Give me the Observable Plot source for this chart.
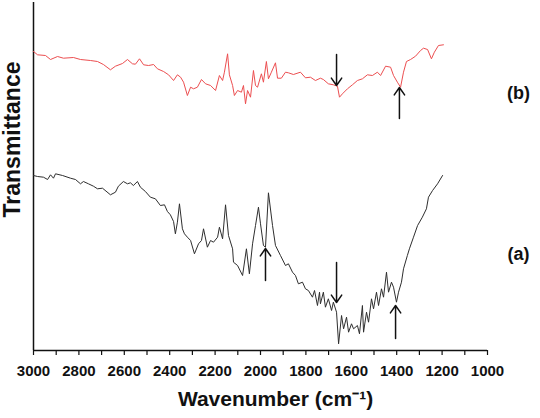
<!DOCTYPE html>
<html>
<head>
<meta charset="utf-8">
<script src="https://cdn.jsdelivr.net/npm/d3@7"></script>
<script src="https://cdn.jsdelivr.net/npm/@observablehq/plot@0.6"></script>
<style>
  body { margin: 0; background: #fff; }
</style>
</head>
<body>
<div id="chart"></div>
<script>
// FTIR spectra, transmittance in arbitrary units
// (b) upper trace, red
const wavenumberB = [3000, 2982, 2947, 2925, 2894, 2868, 2824, 2793, 2749, 2718, 2692, 2661, 2639, 2608, 2586, 2564, 2551, 2533, 2515, 2493, 2471, 2454, 2427, 2405, 2383, 2366, 2352, 2339, 2322, 2308, 2295, 2278, 2260, 2242, 2220, 2198, 2181, 2167, 2159, 2145, 2137, 2123, 2115, 2101, 2084, 2075, 2066, 2057, 2044, 2031, 2022, 2013, 1996, 1987, 1974, 1965, 1952, 1934, 1925, 1908, 1890, 1877, 1855, 1824, 1802, 1780, 1758, 1736, 1723, 1701, 1679, 1661, 1652, 1639, 1617, 1595, 1573, 1551, 1529, 1507, 1485, 1471, 1449, 1427, 1414, 1397, 1383, 1370, 1357, 1339, 1317, 1295, 1282, 1264, 1247, 1234, 1216, 1194];
const transmittanceB = [299, 295.7, 295, 291, 294, 292.3, 293, 291, 290, 289, 286, 280.7, 284.3, 287, 291, 286.7, 286.3, 291.7, 285.7, 285, 286, 281.7, 279, 275.7, 270, 275.7, 273.3, 268.3, 255, 263.3, 261.7, 263.3, 271, 266.7, 265, 260, 275, 270, 278.3, 296.7, 275.7, 265, 255, 260, 258.3, 265, 246.7, 260, 253.3, 280, 265, 263.3, 276.7, 268.3, 289, 271.7, 278.3, 287.7, 272.3, 272.3, 278.3, 277.7, 276, 278.3, 272.7, 273.3, 270, 272.3, 271, 266.7, 265.7, 264.3, 253.3, 256.7, 261.7, 265.7, 270, 271.7, 275.7, 275, 278.3, 275, 284.3, 283.3, 275, 268.3, 263.3, 278.3, 289, 291, 294.3, 300, 302.3, 301, 291.7, 298.3, 305, 305.7];

// (a) lower trace, black
const wavenumberA = [3000, 2982, 2956, 2938, 2925, 2912, 2903, 2872, 2837, 2815, 2793, 2780, 2758, 2736, 2718, 2696, 2661, 2639, 2626, 2604, 2586, 2573, 2560, 2542, 2529, 2507, 2485, 2463, 2441, 2423, 2410, 2397, 2383, 2375, 2366, 2357, 2344, 2335, 2322, 2308, 2291, 2273, 2260, 2251, 2234, 2220, 2207, 2189, 2181, 2167, 2154, 2141, 2123, 2119, 2101, 2079, 2062, 2049, 2035, 2022, 2009, 2000, 1987, 1978, 1965, 1947, 1934, 1912, 1890, 1877, 1859, 1846, 1833, 1815, 1802, 1789, 1771, 1762, 1749, 1740, 1736, 1723, 1714, 1701, 1687, 1679, 1665, 1656, 1643, 1634, 1621, 1612, 1599, 1590, 1573, 1564, 1551, 1546, 1533, 1524, 1511, 1502, 1489, 1480, 1467, 1458, 1445, 1436, 1423, 1414, 1401, 1392, 1379, 1370, 1353, 1344, 1326, 1308, 1287, 1269, 1260, 1242, 1220, 1198];
const transmittanceA = [175, 174, 173.3, 171, 175.7, 172.3, 176.7, 175, 172.3, 171, 166.7, 169, 166.7, 164.3, 161.7, 162.3, 155.7, 158.3, 164.3, 169, 166.7, 167.7, 165, 169, 163.3, 159, 153.3, 151.7, 145, 145.7, 139, 135.7, 129, 116.7, 128.3, 146.7, 121.7, 116.7, 113.3, 110, 96.7, 106.7, 110, 121.7, 103.3, 110, 108.3, 113.3, 123.3, 111.7, 145.7, 115, 101.7, 88.3, 85, 75, 101.7, 76.7, 106.7, 125, 143.3, 126.7, 105, 103.3, 157.7, 125, 105, 95, 85, 86.7, 78.3, 75, 66.7, 68.3, 61.7, 60, 53.3, 60, 45, 58.3, 46.7, 58.3, 43.3, 51.7, 40, 48.3, 38.3, 6.7, 35, 21.7, 33.3, 18.3, 26.7, 21.7, 25, 16.7, 45, 18.3, 38.3, 28.3, 51.7, 41.7, 58.3, 45, 61.7, 53.3, 78.3, 58.3, 68.3, 63.3, 48.3, 58.3, 68.3, 81.7, 95, 101.7, 113.3, 125, 133.3, 141.7, 153.3, 160, 166.7, 175];

// Band markers: position, tail and head of each arrow
const arrowWavenumber = [1665, 1388, 1978, 1665, 1405];
const arrowTail = [296, 232, 70, 88, 12];
const arrowHead = [265, 263, 102, 48, 45];

// Trace labels
const traceLabels = ["(b)", "(a)"];
const traceLabelY = [257, 96];

// Axis ticks
const majorTicks = d3.range(1000, 3001, 200);
const minorTicks = d3.range(1100, 3000, 200);

const chart = Plot.plot({
  width: 540,
  height: 418,
  marginTop: 2,
  marginBottom: 68,
  marginLeft: 33,
  marginRight: 53,
  style: {fontFamily: "'Liberation Sans', Arial, sans-serif", background: "#fff", overflow: "visible"},
  x: {domain: [3000, 1000]},
  y: {domain: [0, 348], axis: null},
  marks: [
    Plot.axisX({ticks: minorTicks, tickSize: 5, stroke: "#111", strokeWidth: 1.2, tickFormat: () => "", label: null}),
    Plot.axisX({ticks: majorTicks, tickSize: 5, tickPadding: 10, stroke: "#111", strokeWidth: 1.2,
      fill: "#111", fontSize: 15, fontWeight: "bold", tickFormat: d => String(d), label: null}),
    Plot.ruleX([3000], {stroke: "#111", strokeWidth: 1.5}),
    Plot.ruleY([0], {stroke: "#111", strokeWidth: 1.5}),
    Plot.line(transmittanceB, {x: wavenumberB, y: transmittanceB, stroke: "#ec4e50", strokeWidth: 1}),
    Plot.line(transmittanceA, {x: wavenumberA, y: transmittanceA, stroke: "#2e2e2e", strokeWidth: 1}),
    Plot.arrow(arrowWavenumber, {
      x1: arrowWavenumber, x2: arrowWavenumber, y1: arrowTail, y2: arrowHead,
      stroke: "#111", strokeWidth: 1.5, headLength: 9, headAngle: 70
    }),
    Plot.text(traceLabels, {x: [1000, 1000], y: traceLabelY, dx: 31, fontSize: 18, fontWeight: "bold", fill: "#111"}),
    Plot.text(["Transmittance"], {frameAnchor: "left", textAnchor: "middle", dx: -21, dy: -37, rotate: -90,
      fontSize: 23, fontWeight: "bold", fill: "#111"}),
    Plot.text(["Wavenumber (cm\u207B\u00B9)"], {frameAnchor: "bottom", textAnchor: "middle", dx: 15, dy: 55,
      fontSize: 21, fontWeight: "bold", fill: "#111"})
  ]
});

document.getElementById("chart").appendChild(chart);
</script>
</body>
</html>
